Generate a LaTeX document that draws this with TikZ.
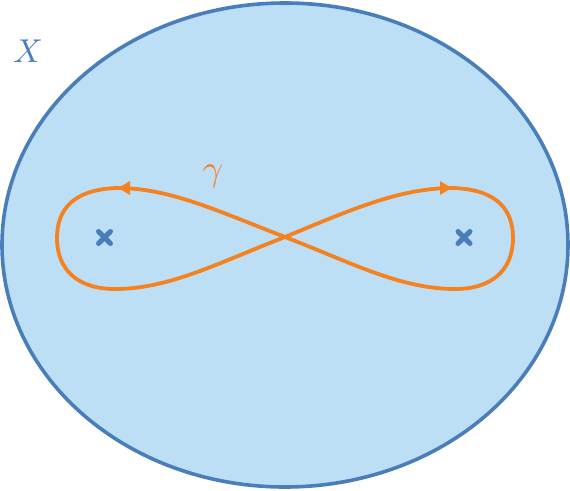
\documentclass[tikz,border=0pt]{standalone}
\usetikzlibrary{arrows.meta,decorations.markings}
\definecolor{regionfill}{HTML}{BDDFF5}
\definecolor{regionline}{HTML}{4A7EBB}
\definecolor{loopcol}{HTML}{F58220}
\tikzset{
  region/.style={draw=regionline,fill=regionfill,line width=3.6pt},
  loopline/.style={draw=loopcol,line width=3.8pt,line cap=round,line join=round},
  arrowend/.style={postaction={decorate},decoration={markings,mark=at position 1 with {\arrow{Triangle[length=12pt,width=13pt]}}}},
  puncture/.style={draw=regionline,line width=5pt,line cap=round},
}
\begin{document}
\begin{tikzpicture}[x=1pt,y=-1pt]
\useasboundingbox (0,0) rectangle (570,490);
\draw[region] (285,245) ellipse [x radius=283, y radius=242];
\coordinate (C) at (285,237);
\coordinate (TR) at (452,188);
\coordinate (TL) at (118,188);
% right lobe
\draw[loopline,arrowend] (C) .. controls (350,210) and (400,188) .. (TR);
\draw[loopline] (TR) .. controls (495,189) and (513,208) .. (513,238)
  .. controls (513,270) and (492,289) .. (455,289)
  .. controls (400,289) and (350,262) .. (C);
% left lobe
\draw[loopline,arrowend] (C) .. controls (220,212) and (170,188) .. (TL);
\draw[loopline] (TL) .. controls (75,189) and (57,208) .. (57,238)
  .. controls (57,270) and (78,289) .. (115,289)
  .. controls (170,289) and (220,262) .. (C);
% punctures
\coordinate (p1) at (104.5,237.5);
\coordinate (p2) at (464,237.5);
\draw[puncture] ([shift={(-6,-6)}]p1) -- ([shift={(6,6)}]p1) ([shift={(-6,6)}]p1) -- ([shift={(6,-6)}]p1);
\draw[puncture] ([shift={(-6,-6)}]p2) -- ([shift={(6,6)}]p2) ([shift={(-6,6)}]p2) -- ([shift={(6,-6)}]p2);
% labels
\node[text=regionline,scale=3.3,inner sep=0pt] (xlab) at (28,51) {$X$};
\node[text=loopcol,scale=3.6,inner sep=0pt] (glab) at (213,176) {$\gamma$};
\end{tikzpicture}
\end{document}
